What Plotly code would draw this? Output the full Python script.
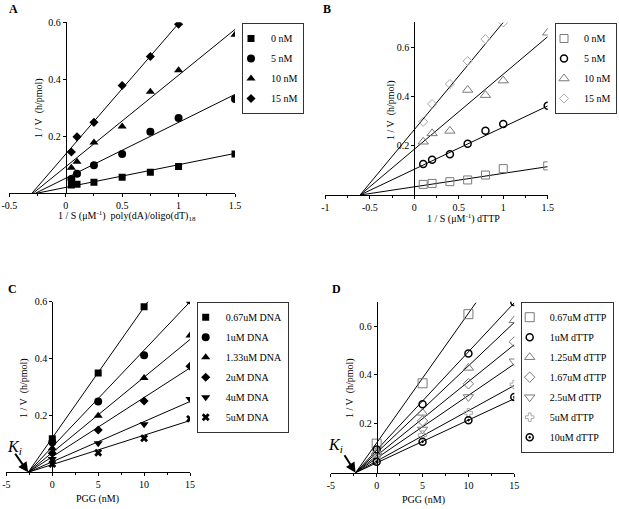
import plotly.graph_objects as go

W, H = 619, 509
FONT = "Liberation Serif"

# ---------------- Panel A data ----------------
a_x = [0.05, 0.1, 0.25, 0.5, 0.75, 1.0, 1.5]
a_names = ["0 nM", "5 nM", "10 nM", "15 nM"]
a_y0 = [0.029, 0.032, 0.039, 0.056, 0.074, 0.094, 0.138]
a_y5 = [0.050, 0.069, 0.098, 0.138, 0.216, 0.264, 0.331]
a_y10 = [0.090, 0.111, 0.178, 0.234, 0.356, 0.432, 0.556]
a_y15 = [0.145, 0.198, 0.249, 0.378, 0.480, 0.593]
a_slope = [0.0795, 0.196, 0.3212, 0.4585]
a_icpt = [0.0207, 0.0529, 0.0932, 0.1375]
a_xend = [1.5, 1.5, 1.5, 1.0]

# ---------------- Panel B data ----------------
b_x = [0.1, 0.2, 0.4, 0.6, 0.8, 1.0, 1.5]
b_names = ["0 nM", "5 nM", "10 nM", "15 nM"]
b_y0 = [0.043, 0.047, 0.054, 0.061, 0.081, 0.107, 0.118]
b_y5 = [0.126, 0.143, 0.165, 0.208, 0.261, 0.288, 0.362]
b_y10 = [0.216, 0.250, 0.260, 0.426, 0.405, 0.464, 0.658]
b_y15 = [0.297, 0.369, 0.450, 0.543, 0.632, 0.700]
b_slope = [0.0545, 0.1711, 0.3043, 0.4348]
b_icpt = [0.0332, 0.1044, 0.1856, 0.2652]
b_xend = [1.5, 1.5, 1.5, 1.0]

# ---------------- Panel C data ----------------
c_x = [0, 5, 10, 15]
c_names = ["0.67uM DNA", "1uM DNA", "1.33uM DNA", "2uM DNA", "4uM DNA", "5uM DNA"]
c_y067 = [0.118, 0.349, 0.582]
c_y1 = [0.106, 0.249, 0.412, 0.605]
c_y133 = [0.085, 0.199, 0.332, 0.481]
c_y2 = [0.067, 0.149, 0.251, 0.373]
c_y4 = [0.047, 0.102, 0.169, 0.258]
c_y5 = [0.029, 0.069, 0.120, 0.188]
c_slope = [0.0460, 0.0340, 0.02649, 0.02082, 0.01412, 0.01032]
c_icpt = [0.121, 0.0895, 0.0697, 0.0548, 0.0371, 0.0272]
c_xend = [10.54, 15, 15, 15, 15, 15]
c_ki = -2.63

# ---------------- Panel D data ----------------
d_x = [0, 5, 10, 15]
d_names = ["0.67uM dTTP", "1uM dTTP", "1.25uM dTTP", "1.67uM dTTP",
           "2.5uM dTTP", "5uM dTTP", "10uM dTTP"]
d_y067 = [0.119, 0.366, 0.649]
d_y1 = [0.095, 0.280, 0.488, 0.699]
d_y125 = [0.085, 0.245, 0.429, 0.624]
d_y167 = [0.076, 0.212, 0.364, 0.536]
d_y25 = [0.065, 0.177, 0.310, 0.456]
d_y5 = [0.058, 0.154, 0.245, 0.361]
d_y10 = [0.045, 0.127, 0.215, 0.310]
d_slope = [0.05305, 0.04023, 0.03555, 0.03029, 0.02572, 0.02064, 0.01751]
d_icpt = [0.122, 0.0925, 0.0818, 0.0697, 0.0592, 0.0475, 0.0403]
d_xend = [10.82, 15, 15, 15, 15, 15, 15]
d_ki = -2.3

# tick labels
ab_xt_a = [-0.5, 0, 0.5, 1, 1.5]
ab_xl_a = ["-0.5", "0", "0.5", "1", "1.5"]
ab_xt_b = [-1, -0.5, 0, 0.5, 1, 1.5]
ab_xl_b = ["-1", "-0.5", "0", "0.5", "1", "1.5"]
cd_xt = [-5, 0, 5, 10, 15]
cd_xl = ["-5", "0", "5", "10", "15"]
y_t = [0.2, 0.4, 0.6]
y_l = ["0.2", "0.4", "0.6"]


def px2paper(px, py):
    return px / W, 1 - py / H


fig = go.Figure()

BLACK = "#000000"
GRAY = "#7a7a7a"
LGRAY = "#a8a8a8"

panels = [
    dict(key="", leg="legend", xr=[-0.5, 1.5], yr=[0, 0.6],
         xpx=[9.3, 235.0], ypx=[193.3, 22.3], xt=ab_xt_a, xl=ab_xl_a, minor=0.25,
         xs=[a_x] * 4, ys=[a_y0, a_y5, a_y10, a_y15], names=a_names,
         slope=a_slope, icpt=a_icpt, xend=a_xend,
         markers=[dict(symbol="square", size=7, color=BLACK),
                  dict(symbol="circle", size=8, color=BLACK),
                  dict(symbol="triangle-up", size=8, color=BLACK),
                  dict(symbol="diamond", size=7, color=BLACK)]),
    dict(key="2", leg="legend2", xr=[-1, 1.5], yr=[0, 0.7],
         xpx=[325.4, 547.7], ypx=[195.0, 22.4], xt=ab_xt_b, xl=ab_xl_b, minor=0.25,
         xs=[b_x] * 4, ys=[b_y0, b_y5, b_y10, b_y15], names=b_names,
         slope=b_slope, icpt=b_icpt, xend=b_xend,
         markers=[dict(symbol="square-open", size=8, color=GRAY, line=dict(width=1, color=GRAY)),
                  dict(symbol="circle-open", size=7, color=BLACK, line=dict(width=1.5, color=BLACK)),
                  dict(symbol="triangle-up-open", size=9, color=GRAY, line=dict(width=1, color=GRAY)),
                  dict(symbol="diamond-open", size=7, color=LGRAY, line=dict(width=1, color=LGRAY))]),
    dict(key="3", leg="legend3", xr=[-5, 15], yr=[0, 0.6],
         xpx=[6.4, 190.0], ypx=[472.3, 301.7], xt=cd_xt, xl=cd_xl, minor=2.5,
         xs=[c_x] * 6, ys=[c_y067, c_y1, c_y133, c_y2, c_y4, c_y5], names=c_names,
         slope=c_slope, icpt=c_icpt, xend=c_xend,
         markers=[dict(symbol="square", size=7, color=BLACK),
                  dict(symbol="circle", size=8, color=BLACK),
                  dict(symbol="triangle-up", size=8, color=BLACK),
                  dict(symbol="diamond", size=7, color=BLACK),
                  dict(symbol="triangle-down", size=8, color=BLACK),
                  dict(symbol="x", size=7, color=BLACK)]),
    dict(key="4", leg="legend4", xr=[-5, 15], yr=[0, 0.7],
         xpx=[330.8, 514.3], ypx=[472.7, 301.7], xt=cd_xt, xl=cd_xl, minor=2.5,
         xs=[d_x] * 7, ys=[d_y067, d_y1, d_y125, d_y167, d_y25, d_y5, d_y10], names=d_names,
         slope=d_slope, icpt=d_icpt, xend=d_xend,
         markers=[dict(symbol="square-open", size=9, color=GRAY, line=dict(width=1, color=GRAY)),
                  dict(symbol="circle-open", size=7, color=BLACK, line=dict(width=1.5, color=BLACK)),
                  dict(symbol="triangle-up-open", size=9, color=GRAY, line=dict(width=1, color=GRAY)),
                  dict(symbol="diamond-open", size=8, color=GRAY, line=dict(width=1, color=GRAY)),
                  dict(symbol="triangle-down-open", size=9, color=GRAY, line=dict(width=1, color=GRAY)),
                  dict(symbol="cross-open", size=7, color=LGRAY, line=dict(width=1, color=LGRAY)),
                  dict(symbol="circle-dot", size=7, color="rgba(0,0,0,0)", line=dict(width=1.5, color=BLACK))]),
]

layout = {}
for p in panels:
    k = p["key"]
    xref, yref = "x" + k, "y" + k
    # fitted lines
    for m, b, xe in zip(p["slope"], p["icpt"], p["xend"]):
        x0 = -b / m
        fig.add_trace(go.Scatter(x=[x0, xe], y=[m * x0 + b, m * xe + b], mode="lines",
                                 line=dict(color=BLACK, width=1), showlegend=False,
                                 hoverinfo="skip", xaxis=xref, yaxis=yref))
    # data points
    for i, (xs, ys, nm, mk) in enumerate(zip(p["xs"], p["ys"], p["names"], p["markers"])):
        fig.add_trace(go.Scatter(x=xs[:len(ys)], y=ys, mode="markers", name=nm, marker=mk,
                                 legend=p["leg"], legendgroup=p["leg"] + str(i),
                                 xaxis=xref, yaxis=yref))
    xd = [p["xpx"][0] / W, p["xpx"][1] / W]
    yd = [1 - p["ypx"][0] / H, 1 - p["ypx"][1] / H]
    ypos = xd[0] + (0 - p["xr"][0]) / (p["xr"][1] - p["xr"][0]) * (xd[1] - xd[0])
    tickfont = dict(family=FONT, size=10, color=BLACK)
    layout["xaxis" + k] = dict(domain=xd, range=p["xr"], anchor=yref, showline=True,
                               linecolor=BLACK, linewidth=1, showgrid=False, zeroline=False,
                               automargin=False,
                               ticks="outside", ticklen=3, tickcolor=BLACK,
                               tickvals=p["xt"], ticktext=p["xl"], tickfont=tickfont,
                               minor=dict(dtick=p["minor"], tick0=0, ticks="outside",
                                          ticklen=2, tickcolor=BLACK, showgrid=False))
    layout["yaxis" + k] = dict(domain=yd, range=p["yr"], anchor="free", position=ypos,
                               showline=True, linecolor=BLACK, linewidth=1, showgrid=False,
                               zeroline=False, automargin=False,
                               ticks="outside", ticklen=3, tickcolor=BLACK,
                               tickvals=y_t, ticktext=y_l, tickfont=tickfont)

legfont = dict(family=FONT, size=10, color=BLACK)
legcommon = dict(font=legfont, bordercolor="#333333", borderwidth=1,
                 bgcolor="rgba(255,255,255,0)", indentation=-12,
                 yanchor="top", tracegroupgap=1, itemwidth=30)
lx, ly = px2paper(242, 23)
layout["legend"] = dict(x=lx, y=ly, xanchor="left", **legcommon)
lx, ly = px2paper(555, 23)
layout["legend2"] = dict(x=lx, y=ly, xanchor="left", **legcommon)
lx, ly = px2paper(196.7, 301.7)
layout["legend3"] = dict(x=lx, y=ly, xanchor="left", **legcommon)
lx, ly = px2paper(520.7, 301.7)
layout["legend4"] = dict(x=lx, y=ly, xanchor="left", **legcommon)

annots = []


def add_text(px, py, text, size=10, angle=0, bold=False, italic=False):
    x, y = px2paper(px, py)
    annots.append(dict(x=x, y=y, xref="paper", yref="paper", text=text, showarrow=False,
                       textangle=angle, xanchor="center", yanchor="middle",
                       font=dict(family=FONT, size=size, color=BLACK,
                                 weight="bold" if bold else "normal",
                                 style="italic" if italic else "normal")))


add_text(127, 216, "1 / S (μM<sup>-1</sup>)  poly(dA)/oligo(dT)<sub>18</sub>")
add_text(39, 108, "1 / V  (h/pmol)", angle=-90)
add_text(463, 218, "1 / S (μM<sup>-1</sup>) dTTP")
add_text(391, 110, "1 / V  (h/pmol)", angle=-90)
add_text(97, 499, "PGG (nM)")
add_text(24, 388, "1 / V  (h/pmol)", angle=-90)
add_text(423, 500, "PGG (nM)")
add_text(350, 388, "1 / V  (h/pmol)", angle=-90)
add_text(13.5, 9, "A", size=12, bold=True)
add_text(327, 8.5, "B", size=12, bold=True)
add_text(12, 288.5, "C", size=12, bold=True)
add_text(336, 288.5, "D", size=12, bold=True)
add_text(14, 447, "K<sub>i</sub>", size=16, italic=True)
add_text(335, 445, "K<sub>i</sub>", size=16, italic=True)

annots.append(dict(x=c_ki, y=0, xref="x3", yref="y3", ax=-14, ay=-20, showarrow=True,
                   arrowhead=2, arrowsize=1, arrowwidth=2, arrowcolor=BLACK, text=""))
annots.append(dict(x=d_ki, y=0, xref="x4", yref="y4", ax=-12, ay=-19, showarrow=True,
                   arrowhead=2, arrowsize=1, arrowwidth=2, arrowcolor=BLACK, text=""))

fig.update_layout(width=W, height=H, margin=dict(l=0, r=0, t=0, b=0, autoexpand=False),
                  paper_bgcolor="white", plot_bgcolor="white", annotations=annots,
                  **layout)

fig.write_html("out.html", config={"displayModeBar": False},
               post_script="document.body.style.margin='0';document.body.style.padding='0';")
